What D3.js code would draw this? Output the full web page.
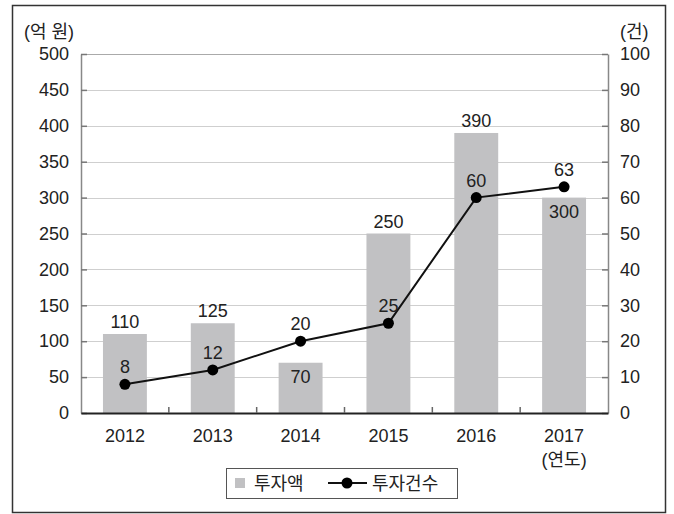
<!DOCTYPE html>
<html>
<head>
<meta charset="utf-8">
<script src="https://cdn.jsdelivr.net/npm/d3@7"></script>
<style>
  body { margin: 0; background: #fff; }
  svg text { font-family: "Liberation Sans", "Noto Sans CJK KR", sans-serif; fill: #222; }
</style>
</head>
<body>
<div class="canvas"></div>
<script>
// data
const years = ['2012', '2013', '2014', '2015', '2016', '2017'];
const amounts = [110, 125, 70, 250, 390, 300];   // 투자액 (억 원)
const counts = [8, 12, 20, 25, 60, 63];           // 투자건수 (건)
const leftTicks = [0, 50, 100, 150, 200, 250, 300, 350, 400, 450, 500];
const rightTicks = [0, 10, 20, 30, 40, 50, 60, 70, 80, 90, 100];
// bars whose value label sits inside the bar
const insideLabels = ['2014', '2017'];

const svg = d3.select('.canvas')
    .append('svg')
    .attr('width', 674)
    .attr('height', 514);

// outer frame
svg.append('rect')
    .attr('x', 12.5).attr('y', 5.5)
    .attr('width', 653).attr('height', 507)
    .attr('fill', 'none')
    .attr('stroke', '#333')
    .attr('stroke-width', 1.5);

const margin = { top: 54, left: 81, right: 66, bottom: 101 };
const graphWidth = 674 - margin.left - margin.right;
const graphHeight = 514 - margin.top - margin.bottom;

const graph = svg.append('g')
    .attr('transform', `translate(${margin.left}, ${margin.top})`);

const x = d3.scaleBand()
    .domain(years)
    .range([0, graphWidth]);

const y = d3.scaleLinear().domain([0, 500]).range([graphHeight, 0]);
const y2 = d3.scaleLinear().domain([0, 100]).range([graphHeight, 0]);

// grid lines
graph.selectAll('line.grid')
    .data(leftTicks.slice(1, -1))
    .enter().append('line')
    .attr('class', 'grid')
    .attr('x1', 0).attr('x2', graphWidth)
    .attr('y1', d => Math.round(y(d)) + 0.5)
    .attr('y2', d => Math.round(y(d)) + 0.5)
    .attr('stroke', '#cfcfcf')
    .attr('stroke-width', 1);

// top border of plot
graph.append('line')
    .attr('x1', 0).attr('x2', graphWidth)
    .attr('y1', 0.5).attr('y2', 0.5)
    .attr('stroke', '#aaa');

// bars
const barW = x.bandwidth() / 2;
graph.selectAll('rect.bar')
    .data(amounts)
    .enter().append('rect')
    .attr('class', 'bar')
    .attr('x', (d, i) => x(years[i]) + x.bandwidth() / 2 - barW / 2)
    .attr('y', d => y(d))
    .attr('width', barW)
    .attr('height', d => graphHeight - y(d))
    .attr('fill', '#c1c1c3');

// axes
const yAxis = d3.axisLeft(y).tickValues(leftTicks).tickSizeInner(-6).tickSizeOuter(0).tickPadding(12);
const yAxis2 = d3.axisRight(y2).tickValues(rightTicks).tickSizeInner(-6).tickSizeOuter(0).tickPadding(12);
const xAxis = d3.axisBottom(x).tickSize(0).tickPadding(16).tickFormat(d => d);

const yAxisGroup = graph.append('g').call(yAxis);
const yAxisGroup2 = graph.append('g')
    .attr('transform', `translate(${graphWidth}, 0)`)
    .call(yAxis2);
const xAxisGroup = graph.append('g')
    .attr('transform', `translate(0, ${graphHeight})`)
    .call(xAxis);

[yAxisGroup, yAxisGroup2].forEach(g => {
    g.select('.domain').attr('stroke', '#888').attr('stroke-width', 1.5);
    g.selectAll('.tick line').attr('stroke', '#777').attr('stroke-width', 1.5);
    g.selectAll('text').attr('font-size', 18).attr('fill', '#222');
});
xAxisGroup.select('.domain').attr('stroke', '#222').attr('stroke-width', 2);
xAxisGroup.selectAll('text').attr('font-size', 18).attr('fill', '#222');

// x ticks between categories
graph.selectAll('line.xtick')
    .data(years.slice(1))
    .enter().append('line')
    .attr('class', 'xtick')
    .attr('x1', d => x(d)).attr('x2', d => x(d))
    .attr('y1', graphHeight).attr('y2', graphHeight - 6)
    .attr('stroke', '#666')
    .attr('stroke-width', 1.5);

// unit labels
svg.append('text').attr('x', 24).attr('y', 38).attr('font-size', 18).text('(억 원)');
svg.append('text').attr('x', 620).attr('y', 38).attr('font-size', 18).text('(건)');
svg.append('text')
    .attr('x', margin.left + x('2017') + x.bandwidth() / 2)
    .attr('y', 466)
    .attr('text-anchor', 'middle')
    .attr('font-size', 18)
    .text('(연도)');

// line
const line = d3.line()
    .x((d, i) => x(years[i]) + x.bandwidth() / 2)
    .y(d => y2(d));

graph.append('path')
    .datum(counts)
    .attr('d', line)
    .attr('fill', 'none')
    .attr('stroke', '#111')
    .attr('stroke-width', 2);

graph.selectAll('circle.pt')
    .data(counts)
    .enter().append('circle')
    .attr('class', 'pt')
    .attr('cx', (d, i) => x(years[i]) + x.bandwidth() / 2)
    .attr('cy', d => y2(d))
    .attr('r', 5.5)
    .attr('fill', '#000');

// bar value labels
graph.selectAll('text.barlabel')
    .data(amounts)
    .enter().append('text')
    .attr('class', 'barlabel')
    .attr('x', (d, i) => x(years[i]) + x.bandwidth() / 2)
    .attr('y', (d, i) => insideLabels.includes(years[i]) ? y(d) + 20 : y(d) - 6)
    .attr('text-anchor', 'middle')
    .attr('font-size', 18)
    .text(d => d);

// count labels
graph.selectAll('text.ptlabel')
    .data(counts)
    .enter().append('text')
    .attr('class', 'ptlabel')
    .attr('x', (d, i) => x(years[i]) + x.bandwidth() / 2)
    .attr('y', d => y2(d) - 11)
    .attr('text-anchor', 'middle')
    .attr('font-size', 18)
    .text(d => d);

// legend
const legend = svg.append('g');
legend.append('rect')
    .attr('x', 226.5).attr('y', 468.5)
    .attr('width', 231).attr('height', 30)
    .attr('fill', '#fff')
    .attr('stroke', '#555');
legend.append('rect')
    .attr('x', 235).attr('y', 478)
    .attr('width', 10).attr('height', 10)
    .attr('fill', '#c1c1c3');
legend.append('text').attr('x', 254).attr('y', 490).attr('font-size', 18).text('투자액');
legend.append('line')
    .attr('x1', 328).attr('x2', 367)
    .attr('y1', 483).attr('y2', 483)
    .attr('stroke', '#111').attr('stroke-width', 2);
legend.append('circle').attr('cx', 347).attr('cy', 483).attr('r', 5.5).attr('fill', '#000');
legend.append('text').attr('x', 372).attr('y', 490).attr('font-size', 18).text('투자건수');
</script>
</body>
</html>
